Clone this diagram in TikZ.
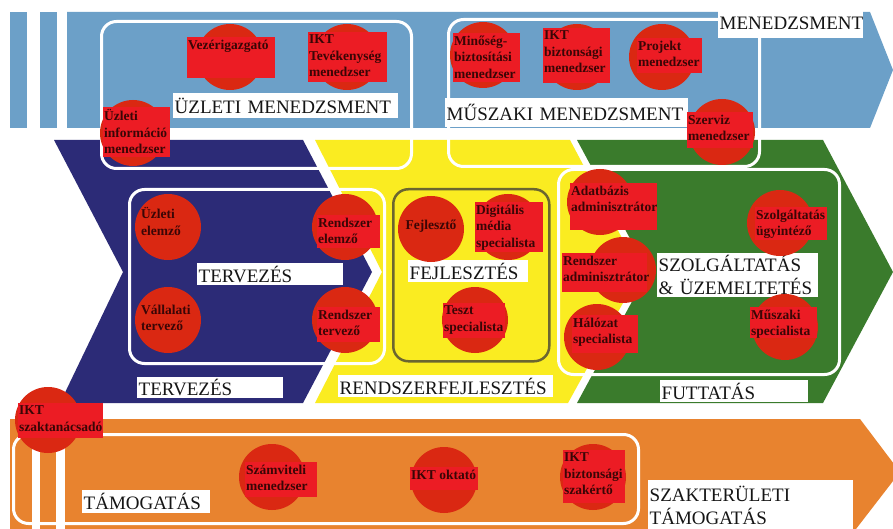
\documentclass[tikz,border=0pt]{standalone}
\usepackage{fontspec}
\setmainfont{Liberation Serif}
\definecolor{bandblue}{HTML}{6CA0C8}
\definecolor{navy}{HTML}{2C2B77}
\definecolor{ylw}{HTML}{FAEC21}
\definecolor{grn}{HTML}{3A7B2C}
\definecolor{orng}{HTML}{E8832F}
\definecolor{circred}{HTML}{DA2812}
\definecolor{rectred}{HTML}{EC1C24}
\definecolor{roletxt}{HTML}{3A0606}
\definecolor{olivec}{HTML}{6B6630}
\definecolor{labtxt}{HTML}{151515}
\tikzset{
  circ/.style={circle, fill=circred, minimum size=66pt, inner sep=0pt},
  rbox/.style={rectangle, fill=rectred, inner sep=0pt, anchor=north west},
  rtxt/.style={text=roletxt, font=\fontsize{13.5}{16.5}\selectfont\bfseries, inner xsep=1pt, inner ysep=2.5pt, anchor=north west, align=left},
  lab/.style={rectangle, fill=white, text=labtxt, font=\fontsize{19}{23}\selectfont, inner xsep=1.5pt, inner ysep=0pt, anchor=north west, align=left},
  wbox/.style={rectangle, draw=white, line width=3pt, rounded corners=15pt, inner sep=0pt, anchor=north west},
  obox/.style={rectangle, draw=olivec, line width=2.5pt, rounded corners=15pt, inner sep=0pt, anchor=north west}
}
\newcommand\rolebox[8]{%
  \node[circ] (#1c) at (#2,#3) {};
  \pgfmathsetmacro\rw{#6-#4}\pgfmathsetmacro\rh{#7-#5}%
  \node[rbox, minimum width=\rw pt, minimum height=\rh pt] (#1r) at (#4,#5) {};
  \node[rtxt] (#1t) at (#1r.north west) {#8};
}
\newcommand\labbox[6]{%
  \pgfmathsetmacro\lw{#4-#2}\pgfmathsetmacro\lh{#5-#3}\pgfmathsetmacro\ltw{#4-#2-3}%
  \node[lab, minimum width=\lw pt, minimum height=\lh pt, text width=\ltw pt] (#1) at (#2,#3) {#6};
}
\newcommand\framebx[6]{%
  \pgfmathsetmacro\fw{#4-#2}\pgfmathsetmacro\fh{#5-#3}%
  \node[#6, minimum width=\fw pt, minimum height=\fh pt] (#1) at (#2,#3) {};
}
\begin{document}
\begin{tikzpicture}[x=1pt,y=-1pt]
\useasboundingbox (0,0) rectangle (893,529);
\fill[white] (0,0) rectangle (893,529);
\clip (0,0) rectangle (893,529);
% bands
\fill[bandblue] (10,12) rectangle (27,128);
\fill[bandblue] (40,12) rectangle (57,128);
\fill[bandblue] (67,12) -- (870,12) -- (893,70) -- (870,128) -- (67,128) -- cycle;
\fill[navy] (54,140) -- (303,140) -- (372,272) -- (303,403) -- (60,403) -- (123,272) -- cycle;
\fill[ylw] (315,140) -- (570,140) -- (640,272) -- (568,403) -- (315,403) -- (382,272) -- cycle;
\fill[grn] (577,140) -- (823,140) -- (893,272) -- (823,403) -- (577,403) -- (648,272) -- cycle;
\fill[orng] (10,419) -- (860,419) -- (900,472) -- (856,529) -- (10,529) -- cycle;
\fill[white] (32,438) rectangle (40,529);
\fill[white] (56,438) rectangle (65,529);
% frames
\framebx{fuz}{100}{20}{410}{167}{wbox}
\framebx{fmu}{447}{18}{758}{165}{wbox}
\framebx{fte}{128}{188}{383}{362}{wbox}
\framebx{ffe}{392}{188}{548}{360}{obox}
\framebx{fsz}{557}{168}{838}{373}{wbox}
\framebx{fta}{12}{433}{637}{522}{wbox}
% labels
\labbox{lmen}{718}{8}{863}{38}{\rlap{MENEDZSMENT}}
\labbox{luz}{173}{93}{398}{118}{\rlap{ÜZLETI MENEDZSMENT}}
\labbox{lmu}{445}{98}{688}{127}{\rlap{MŰSZAKI MENEDZSMENT}}
\labbox{lte}{197}{263}{343}{285}{\rlap{TERVEZÉS}}
\labbox{lte2}{137}{377}{283}{398}{\rlap{TERVEZÉS}}
\labbox{lrf}{338}{375}{553}{397}{\rlap{RENDSZERFEJLESZTÉS}}
\labbox{lfe}{408}{260}{528}{282}{\rlap{FEJLESZTÉS}}
\labbox{lsz}{657}{253}{818}{297}{\rlap{SZOLGÁLTATÁS}\\\rlap{\& ÜZEMELTETÉS}}
\labbox{lfu}{660}{380}{808}{402}{\rlap{FUTTATÁS}}
\labbox{lta}{82}{490}{210}{513}{\rlap{TÁMOGATÁS}}
\labbox{lst}{648}{480}{853}{531}{\rlap{SZAKTERÜLETI}\\\rlap{TÁMOGATÁS}}
% roles
\rolebox{vez}{230}{57}{187}{37}{275}{78}{Vezérigazgató}
\rolebox{ikttev}{347}{57}{308}{32}{387}{82}{IKT\\Tevékenység\\menedzser}
\rolebox{uzinf}{133}{133}{103}{107}{170}{157}{Üzleti\\információ\\menedzser}
\rolebox{minos}{483}{55}{453}{33}{520}{82}{Minőség-\\biztosítási\\menedzser}
\rolebox{iktbm}{577}{57}{543}{28}{610}{83}{IKT\\biztonsági\\menedzser}
\rolebox{proj}{662}{57}{637}{38}{702}{73}{Projekt\\menedzser}
\rolebox{szerv}{722}{132}{687}{112}{753}{148}{Szerviz\\menedzser}
\node[circ] (uzelc) at (168,227) {};
\node[rtxt] (uzelt) at (140,205) {Üzleti\\elemző};
\node[circ] (vallc) at (168,320) {};
\node[rtxt] (vallt) at (140,302) {Vállalati\\tervező};
\rolebox{rel}{345}{227}{317}{215}{380}{248}{Rendszer\\elemző}
\rolebox{rte}{345}{320}{317}{307}{380}{342}{Rendszer\\tervező}
\node[circ] (fejc) at (431,229) {};
\node[rtxt, anchor=center] (fejt) at (431,226) {Fejlesztő};
\rolebox{dig}{508}{227}{475}{202}{543}{252}{Digitális\\média\\specialista}
\rolebox{teszt}{475}{320}{443}{303}{505}{338}{Teszt\\specialista}
\rolebox{adat}{600}{202}{570}{183}{657}{230}{Adatbázis\\adminisztrátor}
\rolebox{radm}{623}{270}{562}{253}{647}{292}{Rendszer\\adminisztrátor}
\rolebox{halo}{597}{337}{572}{315}{638}{353}{Hálózat\\specialista}
\rolebox{szolg}{780}{223}{755}{207}{827}{240}{Szolgáltatás\\ügyintéző}
\rolebox{musz}{785}{327}{750}{307}{817}{338}{Műszaki\\specialista}
\rolebox{iktsz}{48}{420}{18}{403}{103}{438}{IKT\\szaktanácsadó}
\rolebox{szamv}{272}{477}{245}{462}{317}{497}{Számviteli\\menedzser}
\rolebox{iktok}{444}{480}{410}{467}{478}{490}{IKT oktató}
\rolebox{iktbs}{593}{477}{563}{450}{625}{503}{IKT\\biztonsági\\szakértő}
\end{tikzpicture}
\end{document}
